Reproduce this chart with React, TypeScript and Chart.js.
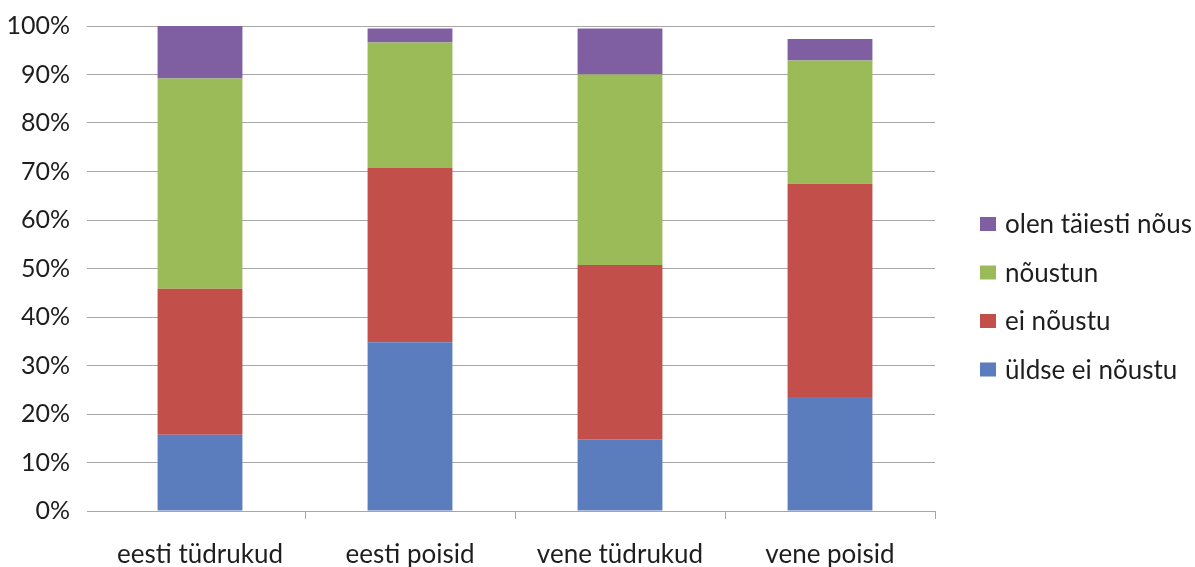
import React, { useEffect, useRef } from "react";
import { Chart, registerables } from "chart.js";

Chart.register(...registerables);

const categories = ["eesti tüdrukud", "eesti poisid", "vene tüdrukud", "vene poisid"];
const uldseEiNoustu = [15.7, 34.8, 14.8, 23.5];
const eiNoustu = [30.1, 35.9, 35.9, 44.0];
const noustun = [43.4, 25.9, 39.3, 25.4];
const olenTaiestiNous = [10.8, 2.9, 9.5, 4.4];
const seriesLabels = ["üldse ei nõustu", "ei nõustu", "nõustun", "olen täiesti nõus"];
const seriesColors = ["#5B7DBD", "#C24F4A", "#9BBB59", "#7F5FA1"];

const FONT = "Lato";
const GRID = "#a6a6a6";
const TEXT = "#1e1e1e";

const sideLegend = {
  id: "sideLegend",
  afterDraw(chart: any) {
    const { ctx, chartArea } = chart;
    const ds = chart.data.datasets;
    ctx.save();
    ctx.font = `26px ${FONT}`;
    ctx.textBaseline = "middle";
    ctx.textAlign = "left";
    const x0 = chartArea.right + 45;
    const y0 = chartArea.top + 198;
    const step = 48.5;
    for (let i = 0; i < ds.length; i++) {
      const d = ds[ds.length - 1 - i];
      const cy = y0 + i * step;
      ctx.fillStyle = d.backgroundColor;
      ctx.fillRect(x0, cy - 7, 16, 14);
      ctx.fillStyle = TEXT;
      ctx.fillText(d.label, x0 + 25, cy + 1);
    }
    ctx.restore();
  },
};

export default function App() {
  const ref = useRef<HTMLCanvasElement | null>(null);
  useEffect(() => {
    if (!ref.current) return;
    const values = [uldseEiNoustu, eiNoustu, noustun, olenTaiestiNous];
    const chart = new Chart(ref.current, {
      type: "bar",
      data: {
        labels: categories,
        datasets: values.map((v, i) => ({
          label: seriesLabels[i],
          data: v,
          backgroundColor: seriesColors[i],
          borderWidth: 0,
          barPercentage: 0.404,
          categoryPercentage: 1,
        })),
      },
      options: {
        responsive: false,
        animation: false,
        layout: { padding: { top: 26, right: 260, bottom: 0, left: 0 } },
        plugins: { legend: { display: false }, tooltip: { enabled: false } },
        scales: {
          x: {
            stacked: true,
            afterFit: (s: any) => {
              s.height = 56;
            },
            grid: {
              display: true,
              drawOnChartArea: false,
              drawTicks: true,
              tickLength: 8,
              offset: true,
              color: (c: any) => (c.type === "tick" && c.index === 0 ? "rgba(0,0,0,0)" : GRID),
            },
            border: { display: true, color: GRID },
            ticks: { font: { family: FONT, size: 26 }, color: TEXT, padding: 20, maxRotation: 0 },
          },
          y: {
            stacked: true,
            min: 0,
            max: 100,
            afterFit: (s: any) => {
              s.width = 95;
              s.paddingTop = 0;
              s.paddingBottom = 0;
            },
            grid: { color: GRID, tickLength: 8, drawTicks: true },
            border: { display: false },
            ticks: {
              stepSize: 10,
              font: { family: FONT, size: 25 },
              color: TEXT,
              padding: 17,
              callback: (v: any) => `${v}%`,
            },
          },
        },
      },
      plugins: [sideLegend],
    });
    return () => chart.destroy();
  }, []);
  return (
    <div style={{ position: "absolute", left: 0, top: 0, width: 1195, height: 567 }}>
      <canvas ref={ref} width={1195} height={567} style={{ display: "block" }} />
    </div>
  );
}
